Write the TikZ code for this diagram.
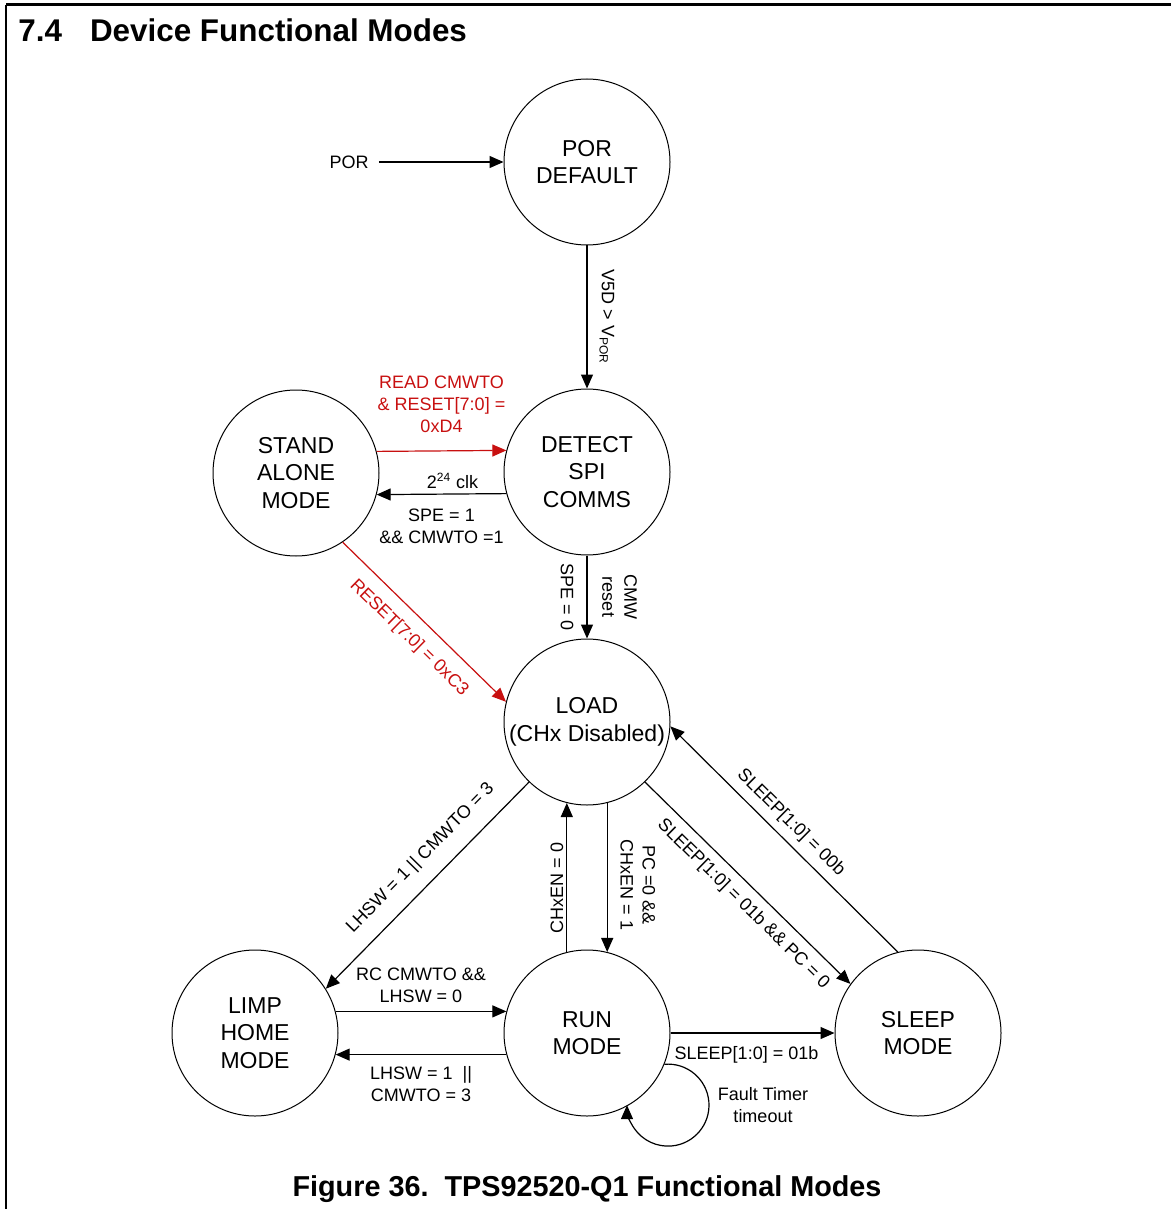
\documentclass[tikz,border=0pt]{standalone}
\usepackage{fontspec}
\setmainfont{Liberation Sans}
\usetikzlibrary{arrows.meta}
\definecolor{tiRed}{RGB}{200,16,16}

\begin{document}
\begin{tikzpicture}[x=0.5pt,y=0.5pt,
	mode/.style={circle,draw,line width=0.5pt,minimum size=83pt,inner sep=0pt,align=center,font=\fontsize{11.5}{13.75}\selectfont},
	tr/.style={-{Triangle[length=7pt,width=6pt]},line width=0.6pt},
	redtr/.style={tr,color=tiRed},
	lbl/.style={align=center,font=\fontsize{9}{11}\selectfont,inner sep=2pt}]
	\useasboundingbox (0,0) rectangle (1171,-1209);
	\draw[line width=1.5pt] (6,-5) -- (1171,-5);
	\draw[line width=1.2pt] (6,-5) -- (6,-1209);
	\node[anchor=base west,inner sep=0pt,font=\bfseries\fontsize{15.7}{18}\selectfont] (title) at (18,-42) {7.4\hspace{14pt}Device Functional Modes};
	\node[anchor=base,inner sep=0pt,font=\bfseries\fontsize{14.4}{17}\selectfont] (caption) at (587,-1196) {Figure 36.\ \ TPS92520-Q1 Functional Modes};

	\node[mode] (pordef) at (587,-162) {POR\\DEFAULT};
	\node[mode] (detect) at (587,-472) {DETECT\\SPI\\COMMS};
	\node[mode] (stand) at (296,-473) {STAND\\ALONE\\MODE};
	\node[mode] (load) at (587,-722) {LOAD\\(CHx Disabled)};
	\node[mode] (limp) at (255,-1033) {LIMP\\HOME\\MODE};
	\node[mode] (run) at (587,-1033) {RUN\\MODE};
	\node[mode] (sleep) at (918,-1033) {SLEEP\\MODE};
	\node[lbl,inner xsep=5pt] (porin) at (349,-162) {POR};

	\draw[tr] (porin.east) -- (pordef.west);
	\draw[tr] (pordef) -- (detect) node[lbl,midway,rotate=-90,above,inner ysep=6pt] (vpor) {V5D > V\textsubscript{POR}};
	\draw[redtr] (stand.15) -- (detect.165) node[lbl,midway,above=6.6pt] (readlbl) {READ CMWTO\\\& RESET[7:0] =\\0xD4};
	\draw[tr] (detect.195) -- (stand.-15) node[lbl,midway,above=0.3pt,xshift=5.5pt] (clklbl) {2\textsuperscript{24} clk}
		node[lbl,midway,below=5pt] (spelbl) {SPE = 1\\\&\& CMWTO =1};
	\draw[tr] (detect) -- (load) node[lbl,midway,rotate=-90,below,inner ysep=6.5pt] (spe0) {SPE = 0}
		node[lbl,midway,rotate=-90,above,inner ysep=7.3pt] (cmwlbl) {CMW\\reset};
	\draw[redtr] (stand.-56) -- (load.166) node[lbl,midway,sloped,below,inner ysep=6.5pt] (c3lbl) {RESET[7:0] = 0xC3};
	\draw[tr] (load.226) -- (limp.32) node[lbl,pos=.45,sloped,above,inner ysep=7.4pt] (limplbl) {LHSW = 1 || CMWTO = 3};
	\draw[tr] (run.104) -- (load.-104) node[lbl,pos=.43,rotate=90,above,inner ysep=1.5pt] (chen0) {CHxEN = 0};
	\draw[tr] (load.-76) -- (run.76) node[lbl,pos=.55,rotate=-90,above,inner ysep=6.3pt] (chen1) {PC =0 \&\&\\CHxEN = 1};
	\draw[tr] (load.-46) -- (sleep.144) node[lbl,pos=.54,sloped,below,inner ysep=4.6pt] (s01pc) {SLEEP[1:0] = 01b \&\& PC = 0};
	\draw[tr] (sleep.104) -- (load.-3) node[lbl,pos=.52,sloped,above,inner ysep=3.6pt] (s00) {SLEEP[1:0] = 00b};
	\draw[tr] (limp.15) -- (run.165) node[lbl,midway,above=2.2pt] (rclbl) {RC CMWTO \&\&\\LHSW = 0};
	\draw[tr] (run.195) -- (limp.-15) node[lbl,midway,below=3.5pt] (lhswlbl) {LHSW = 1\ \ ||\\CMWTO = 3};
	\draw[tr] (run) -- (sleep) node[lbl,midway,below=4.3pt,xshift=-3pt] (s01) {SLEEP[1:0] = 01b};
	\draw[tr] (run.-22) arc[start angle=95,end angle=-180,radius=41];
	\node[lbl] (fault) at (763,-1105) {Fault Timer\\timeout};
\end{tikzpicture}
\end{document}
